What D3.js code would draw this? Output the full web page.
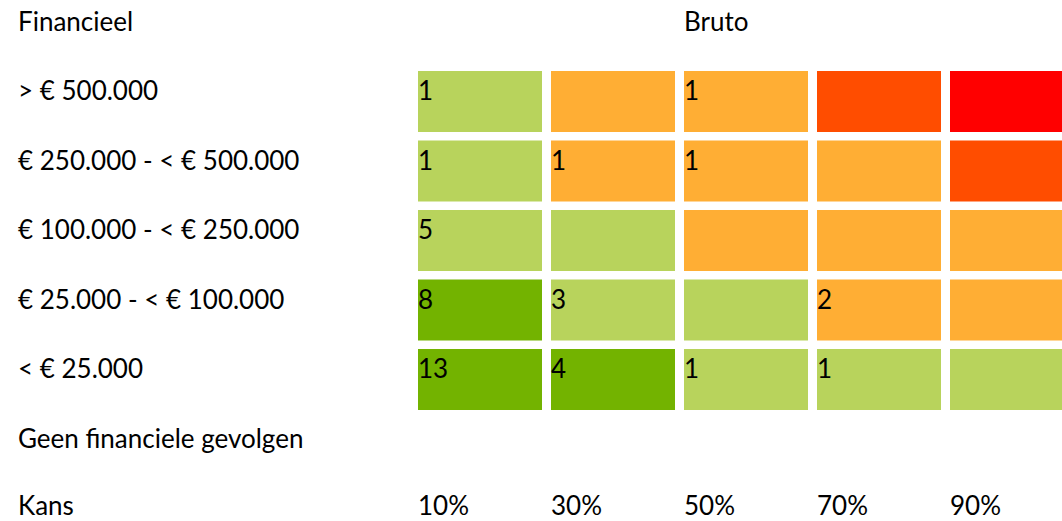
<!DOCTYPE html>
<html>
<head>
<meta charset="utf-8">
<script src="https://cdn.jsdelivr.net/npm/d3@7"></script>
<style>
  html, body { margin: 0; padding: 0; background: #fff; }
  svg { display: block; }
</style>
</head>
<body>
<svg id="chart" width="1062" height="521"></svg>
<script>
// ---- data ----
const headerLabel = "Financieel";
const titleLabel = "Bruto";
const impactLabels = ["> € 500.000", "€ 250.000 - < € 500.000", "€ 100.000 - < € 250.000", "€ 25.000 - < € 100.000", "< € 25.000"];
const noImpactLabel = "Geen financiele gevolgen";
const probabilityAxisLabel = "Kans";
const probabilityLabels = ["10%", "30%", "50%", "70%", "90%"];
// risk level per cell (0 = low / dark green, 1 = light green, 2 = orange, 3 = orange-red, 4 = red)
const levelRows = [
  [1, 2, 2, 3, 4],
  [1, 2, 2, 2, 3],
  [1, 1, 2, 2, 2],
  [0, 1, 1, 2, 2],
  [0, 0, 1, 1, 1]
];
// number of risks per cell (null = empty)
const countRows = [
  [1, null, 1, null, null],
  [1, 1, 1, null, null],
  [5, null, null, null, null],
  [8, 3, null, 2, null],
  [13, 4, 1, 1, null]
];
const levelColors = ["#73b300", "#b8d35c", "#ffae34", "#ff4d00", "#ff0000"];

// ---- layout ----
const svg = d3.select("#chart");
const font = "Lato, 'Source Sans Pro', sans-serif";
const fontSize = 26;

const rowKeys = ["header", ...impactLabels, "none", "axis"];
const y = d3.scaleBand().domain(rowKeys).range([1.5, 549]).paddingInner(0.1223).paddingOuter(0);
const x = d3.scaleBand().domain(probabilityLabels).range([418, 1074]).paddingInner(0.0677).paddingOuter(0);
const color = d3.scaleOrdinal().domain(d3.range(levelColors.length)).range(levelColors);
const baseOff = 29.5;
const textY = d => y(d) + (d === "axis" ? 27 : baseOff);

const cells = [];
impactLabels.forEach((imp, r) => {
  probabilityLabels.forEach((p, c) => {
    cells.push({ imp, p, level: levelRows[r][c], count: countRows[r][c] });
  });
});

svg.append("g").selectAll("rect").data(cells).join("rect")
  .attr("x", d => x(d.p))
  .attr("y", d => y(d.imp))
  .attr("width", x.bandwidth())
  .attr("height", y.bandwidth())
  .attr("fill", d => color(d.level));

svg.append("g").selectAll("text").data(cells.filter(d => d.count != null)).join("text")
  .attr("x", d => x(d.p))
  .attr("y", d => textY(d.imp))
  .attr("font-family", font).attr("font-size", fontSize).attr("fill", "#000")
  .text(d => d.count);

// row labels
const leftLabels = [headerLabel, ...impactLabels, noImpactLabel, probabilityAxisLabel];
svg.append("g").selectAll("text").data(rowKeys).join("text")
  .attr("x", 18)
  .attr("y", d => textY(d))
  .attr("font-family", font).attr("font-size", fontSize).attr("fill", "#000")
  .text((d, i) => leftLabels[i]);

// title
svg.append("text")
  .attr("x", x(probabilityLabels[2]))
  .attr("y", textY("header"))
  .attr("font-family", font).attr("font-size", fontSize).attr("fill", "#000")
  .text(titleLabel);

// column labels (x axis)
svg.append("g").selectAll("text").data(probabilityLabels).join("text")
  .attr("x", d => x(d))
  .attr("y", textY("axis"))
  .attr("font-family", font).attr("font-size", fontSize).attr("fill", "#000")
  .text(d => d);
</script>
</body>
</html>
